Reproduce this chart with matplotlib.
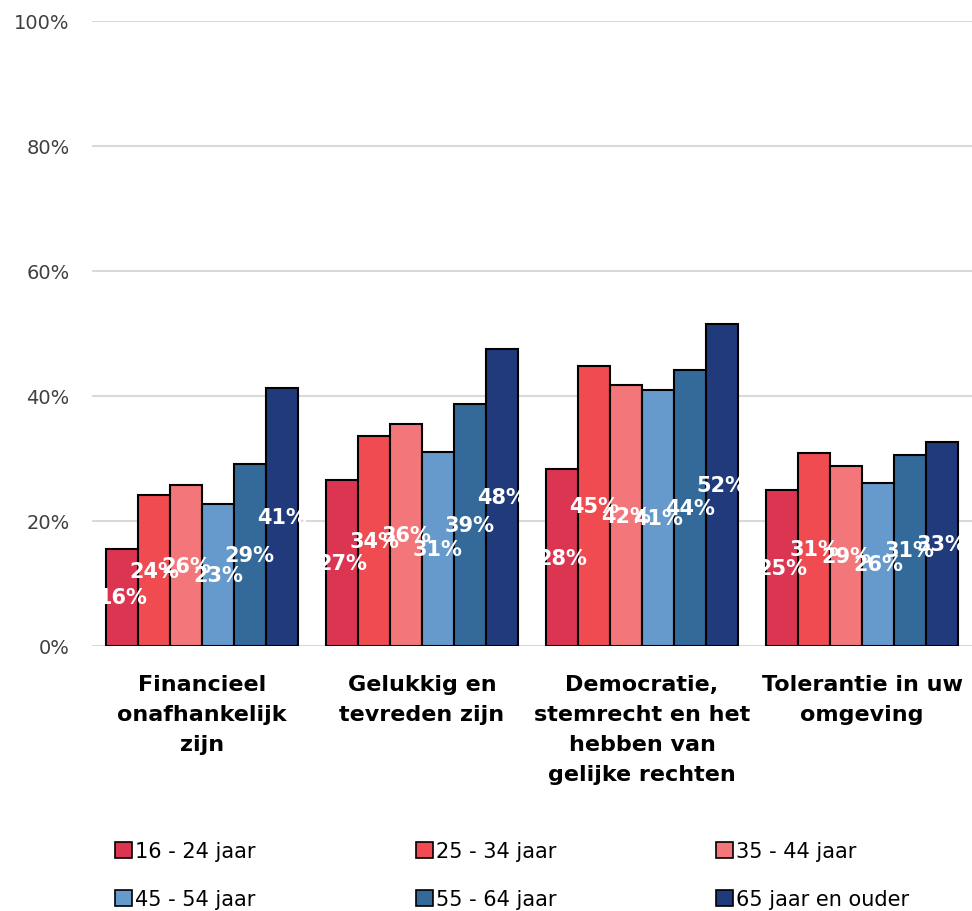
import matplotlib
matplotlib.use("Agg")
import matplotlib.pyplot as plt
import numpy as np
from matplotlib.patches import Patch

categories = ["Financieel\nonafhankelijk\nzijn", "Gelukkig en\ntevreden zijn",
              "Democratie,\nstemrecht en het\nhebben van\ngelijke rechten",
              "Tolerantie in uw\nomgeving"]
series_names = ["16 - 24 jaar", "25 - 34 jaar", "35 - 44 jaar",
                "45 - 54 jaar", "55 - 64 jaar", "65 jaar en ouder"]
s16_24 = [15.6, 26.6, 28.3, 25.0]
s25_34 = [24.1, 33.6, 44.8, 30.9]
s35_44 = [25.7, 35.6, 41.7, 28.8]
s45_54 = [22.8, 31.0, 41.0, 26.1]
s55_64 = [29.1, 38.8, 44.2, 30.6]
s65plus = [41.3, 47.6, 51.6, 32.6]
series = [s16_24, s25_34, s35_44, s45_54, s55_64, s65plus]
colors = ["#DC3552", "#F04B50", "#F3777A", "#6699CC", "#336A9A", "#213A7C"]
yticks = [0, 20, 40, 60, 80, 100]

plt.rcParams['font.family'] = ['DejaVu Sans']
fig = plt.figure(figsize=(9.72, 9.12), dpi=100)
ax = fig.add_axes([92/972, 1 - 647/912, 880/972, 625/912])

x = np.arange(len(categories))
bw = 0.145
for i, (vals, c) in enumerate(zip(series, colors)):
    xs = x + (i - 2.5) * bw
    ax.bar(xs, vals, width=bw, color=c, edgecolor="black", linewidth=1.5, zorder=3)
    for xi, v in zip(xs, vals):
        ax.text(xi, v / 2, f"{round(v):.0f}%", ha="center", va="center",
                color="white", fontsize=15, fontweight="bold", zorder=4)

ax.set_xlim(-0.5, len(categories) - 0.5)
ax.set_ylim(0, 100)
ax.set_yticks(yticks)
ax.set_yticklabels([f"{t}%" for t in yticks], fontsize=14, color="#404040")
ax.tick_params(axis="y", length=0, pad=16)
ax.tick_params(axis="x", length=0, pad=20)
ax.set_xticks(x)
ax.set_xticklabels(categories, fontsize=16, fontweight="bold", linespacing=1.62, va="top")
ax.grid(axis="y", color="#D9D9D9", linewidth=1.5, zorder=0)
for s in ax.spines.values():
    s.set_visible(False)

handles = [Patch(facecolor=c, edgecolor="black", linewidth=1.2) for c in colors]
order = [0, 3, 1, 4, 2, 5]
fig.legend([handles[i] for i in order], [series_names[i] for i in order],
           ncol=3, loc="lower left", bbox_to_anchor=(107/972, -0.007, 0.834, 0.115),
           mode="expand", frameon=False, fontsize=15, handlelength=0.8, handleheight=0.8,
           handletextpad=0.15, labelspacing=1.35, borderaxespad=0.0)

fig.savefig("out.png", dpi=100)
